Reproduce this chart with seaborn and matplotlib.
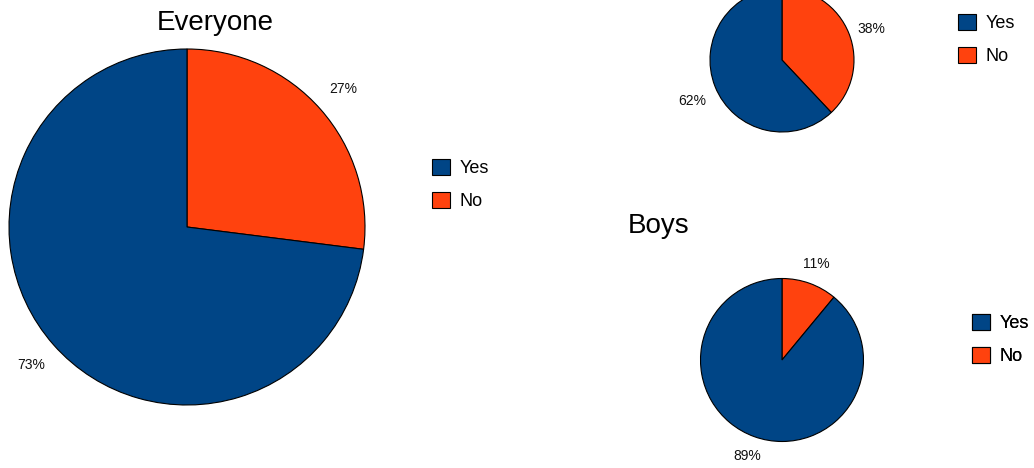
import matplotlib
matplotlib.use("Agg")
import matplotlib.pyplot as plt
import seaborn as sns

# Survey answers (percent) for each group
answers = ["Yes", "No"]
everyone = [73, 27]
girls = [62, 38]
boys = [89, 11]

sns.set_style("white")
plt.rcParams["font.family"] = ["Liberation Sans", "DejaVu Sans"]
plt.rcParams["text.color"] = "black"

colors = ["#004586", "#ff420e"]
W, H = 1034, 468

fig = plt.figure(figsize=(W / 100, H / 100), dpi=100)
ax = fig.add_axes([0, 0, 1, 1])


def draw_pie(values, cx, cy, r, pctdist):
    # pies are ordered so that "No" runs clockwise from 12 o'clock
    wedges, _, autotexts = ax.pie(
        values[::-1], colors=colors[::-1], center=(cx, H - cy), radius=r,
        startangle=90, counterclock=False, frame=True,
        autopct="%d%%", pctdistance=pctdist,
        wedgeprops=dict(edgecolor="black", linewidth=0.8),
        textprops=dict(fontsize=10, color="#111111"))
    return wedges[::-1], autotexts[::-1]


def add_legend(handles, x, y):
    leg = ax.legend(handles, answers, loc="upper left",
                    bbox_to_anchor=(x / W, 1 - y / H), frameon=False,
                    fontsize=13, handlelength=1.0, handleheight=1.0,
                    handletextpad=0.5, labelspacing=0.8, borderaxespad=0)
    for h in leg.legend_handles:
        h.set_edgecolor("black")
        h.set_linewidth(0.8)
    ax.add_artist(leg)


w_all, _ = draw_pie(everyone, 187, 227, 178, 1.17)
w_girls, t_girls = draw_pie(girls, 782, 60, 72, 1.34)
w_boys, _ = draw_pie(boys, 782, 360, 81.5, 1.25)

# nudge the small pie's labels a little lower
for t in t_girls:
    x, y = t.get_position()
    t.set_position((x, y - 5))

add_legend(w_all, 425, 152)
add_legend(w_girls, 951, 7)
add_legend(w_boys, 965, 307)

ax.text(215, H - 23, "Everyone", fontsize=20, ha="center", va="center")
ax.text(628, H - 226, "Boys", fontsize=20, ha="left", va="center")

ax.set_xlim(0, W)
ax.set_ylim(0, H)
ax.set_aspect("equal")
ax.axis("off")

fig.savefig("out.png", dpi=100, facecolor="white")
